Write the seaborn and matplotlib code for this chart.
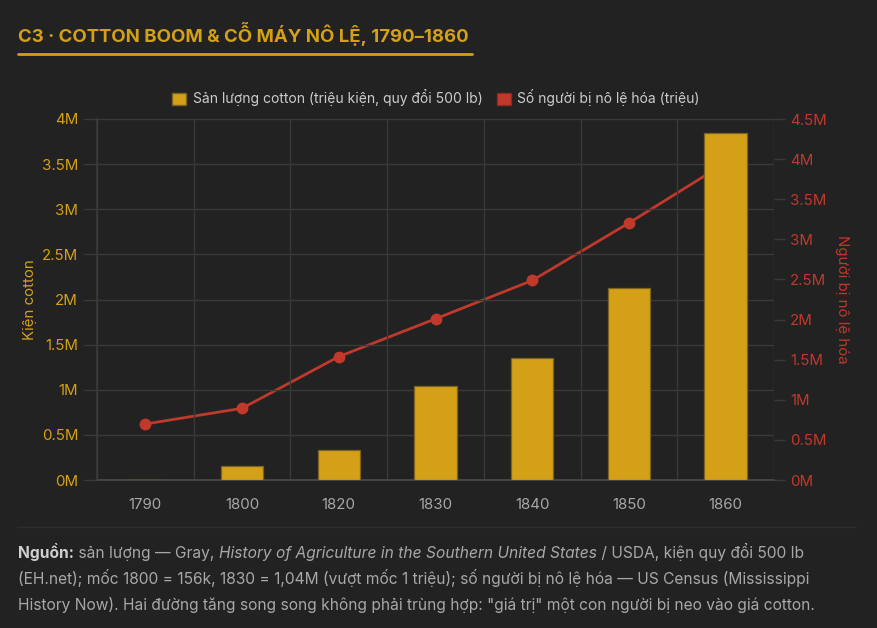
import matplotlib
matplotlib.use("Agg")
import matplotlib.pyplot as plt
import seaborn as sns
import pandas as pd
from matplotlib.patches import Patch
from matplotlib.lines import Line2D
from matplotlib.ticker import MultipleLocator, FuncFormatter

# data (millions)
years = ["1790", "1800", "1820", "1830", "1840", "1850", "1860"]
cotton_bales_m = [0.003, 0.156, 0.335, 1.04, 1.35, 2.13, 3.84]
enslaved_m = [0.698, 0.894, 1.538, 2.009, 2.487, 3.204, 3.954]

legend_labels = ["Sản lượng cotton (triệu kiện, quy đổi 500 lb)",
                 "Số người bị nô lệ hóa (triệu)"]
title = "C3 · COTTON BOOM & CỖ MÁY NÔ LỆ, 1790–1860"

BG = "#222222"
GOLD = "#d4a017"
RED = "#c0392b"
GRID = "#3a3a3a"
TXT = "#a8a8a8"

W, H = 877, 628
X0, X1, Y0, Y1 = 97, 774, 480, 119   # plot area in pixels

sns.set_theme(style="dark")
plt.rcParams["font.family"] = ["Inter", "DejaVu Sans"]

df = pd.DataFrame({"year": years, "cotton": cotton_bales_m, "enslaved": enslaved_m})

fig = plt.figure(figsize=(W / 100, H / 100), dpi=100, facecolor=BG)
ax = fig.add_axes([X0 / W, 1 - Y0 / H, (X1 - X0) / W, (Y0 - Y1) / H])
ax2 = ax.twinx()

# bars go on top of the line -> raise ax above its twin
ax.set_zorder(ax2.get_zorder() + 1)
ax.patch.set_visible(False)
ax2.patch.set_facecolor(BG)

sns.barplot(data=df, x="year", y="cotton", ax=ax, color=GOLD, saturation=1,
            width=0.44, edgecolor="#7d6320", linewidth=0.9, zorder=3)
sns.pointplot(data=df, x="year", y="enslaved", ax=ax2, color=RED, errorbar=None,
              markers="o", markersize=7, linewidth=2)

for a in (ax, ax2):
    a.set_xlim(-0.5, len(years) - 0.5)
    a.set_xlabel("")
    for s in a.spines.values():
        s.set_visible(False)

ax.set_ylim(0, 4)
ax2.set_ylim(0, 4.5)
fmt = FuncFormatter(lambda v, p: f"{v:g}M")
ax.yaxis.set_major_locator(MultipleLocator(0.5))
ax.yaxis.set_major_formatter(fmt)
ax2.yaxis.set_major_locator(MultipleLocator(0.5))
ax2.yaxis.set_major_formatter(fmt)

# x: labels at centres, tick marks / grid at category boundaries
ax.set_xticks(range(len(years)))
ax.set_xticklabels(years)
ax.set_xticks([i - 0.5 for i in range(len(years) + 1)], minor=True)
ax.tick_params(axis="x", which="major", length=0, pad=13, labelsize=10.8, labelcolor=TXT)
ax.tick_params(axis="x", which="minor", length=10, width=1, color=GRID)
ax.grid(True, which="minor", axis="x", color=GRID, linewidth=1)
ax.grid(True, which="major", axis="y", color=GRID, linewidth=1)
ax.grid(False, which="major", axis="x")
ax.tick_params(axis="y", left=True, length=10, width=1, color=GRID, pad=3.5,
               labelsize=10.8, labelcolor=GOLD)
ax2.tick_params(axis="y", right=True, length=8, width=1, color=GRID, pad=3.5,
                labelsize=10.8, labelcolor=RED)
ax2.grid(False)
ax2.tick_params(axis="x", length=0, labelbottom=False)

ax.spines["left"].set_visible(True)
ax.spines["left"].set_color(GRID)
ax.spines["bottom"].set_visible(True)
ax.spines["bottom"].set_color("#4a4a4a")
ax.spines["bottom"].set_zorder(2)

ax.set_ylabel("Kiện cotton", color=GOLD, fontsize=10.8)
ax2.set_ylabel("Người bị nô lệ hóa", color=RED, fontsize=10.8, rotation=270)
for lab in (ax.yaxis.label, ax2.yaxis.label):
    lab.set_va("center")
    lab.set_ha("center")
ax.yaxis.set_label_coords((30 - X0) / (X1 - X0), 0.5)
ax2.yaxis.set_label_coords((842 - X0) / (X1 - X0), 0.5)

# legend
handles = [Patch(facecolor=GOLD, edgecolor="#7d6320"), Patch(facecolor=RED, edgecolor="#8e2a20")]
fig.legend(handles, legend_labels, loc="center", bbox_to_anchor=(436 / W, 1 - 98 / H),
           ncol=2, frameon=False, fontsize=10, labelcolor="#cccccc",
           handlelength=1.0, handleheight=1.0, handletextpad=0.5, columnspacing=1.0)

# title + underline
fig.text(18 / W, 1 - 34 / H, title, color=GOLD, fontsize=13.4, fontweight="bold",
         ha="left", va="center")
fig.add_artist(Line2D([18 / W, 472 / W], [1 - 54 / H] * 2, color=GOLD, linewidth=2))

# separator above the note
fig.add_artist(Line2D([17 / W, 856 / W], [1 - 527 / H] * 2, color="#2e2e2e", linewidth=1))

renderer = fig.canvas.get_renderer()


def draw_runs(y_px, runs, size=11.2):
    # y_px is the baseline, so mixed regular/italic/bold runs line up
    x = 18
    for txt, weight, style, color in runs:
        t = fig.text(x / W, 1 - y_px / H, txt, fontsize=size, fontweight=weight,
                     fontstyle=style, color=color, ha="left", va="baseline")
        x += t.get_window_extent(renderer=renderer).width


draw_runs(558, [("Nguồn:", "bold", "normal", "#cfcfcf"),
                (" sản lượng — Gray, ", "normal", "normal", TXT),
                ("History of Agriculture in the Southern United States", "normal", "italic", TXT),
                (" / USDA, kiện quy đổi 500 lb", "normal", "normal", TXT)])
draw_runs(584, [("(EH.net); mốc 1800 = 156k, 1830 = 1,04M (vượt mốc 1 triệu); số người bị nô lệ hóa — US Census (Mississippi",
                 "normal", "normal", TXT)])
draw_runs(610, [("History Now). Hai đường tăng song song không phải trùng hợp: \"giá trị\" một con người bị neo vào giá cotton.",
                 "normal", "normal", TXT)])

fig.savefig("out.png", dpi=100, facecolor=BG)
